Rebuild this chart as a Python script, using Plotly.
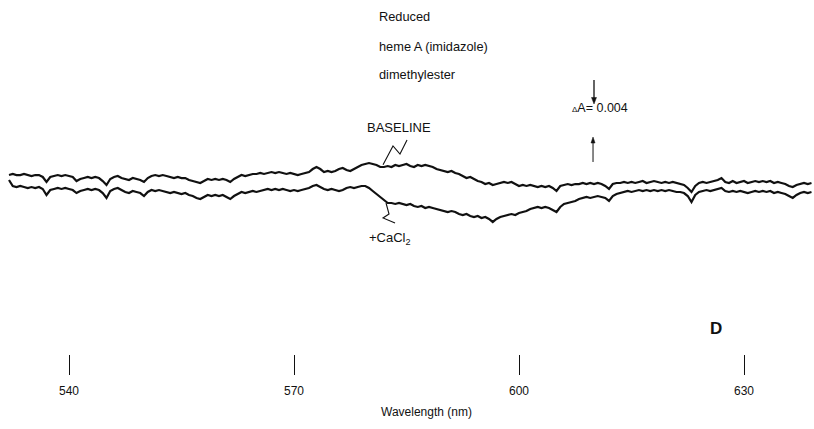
import numpy as np
import plotly.graph_objects as go

# Wavelength grid (nm), 0.5 nm steps
wavelength = np.round(np.arange(532.0, 639.01, 0.5), 1)

# Absorbance traces, in milli-absorbance (relative)
baseline_mA = [
    1.33, 1.47, 1.33, 1.33, 1.47, 1.33, 1.20, 1.33, 1.33, 1.07,
    0.40, 1.07, 1.20, 1.33, 1.20, 1.33, 1.20, 1.07, 0.53, 0.80,
    0.93, 1.07, 0.93, 1.07, 0.93, 0.53, 0.00, 0.80, 1.07, 1.20,
    0.93, 0.80, 0.67, 0.93, 0.80, 0.67, 0.40, 0.93, 1.20, 1.33,
    1.20, 1.33, 1.20, 1.07, 0.93, 1.07, 0.93, 0.93, 0.67, 0.53,
    0.40, 0.27, 0.53, 0.80, 0.67, 0.80, 0.67, 0.80, 0.67, 0.40,
    0.80, 1.07, 1.33, 1.20, 1.33, 1.47, 1.47, 1.60, 1.47, 1.60,
    1.73, 1.60, 1.73, 1.60, 1.47, 1.60, 1.47, 1.33, 1.47, 1.60,
    1.73, 2.13, 2.40, 2.13, 1.73, 1.87, 1.73, 1.87, 2.13, 2.27,
    2.00, 1.87, 2.13, 2.40, 2.67, 2.80, 2.93, 2.80, 2.67, 2.40,
    2.40, 2.53, 2.40, 2.67, 2.53, 2.67, 2.80, 2.53, 2.40, 2.67,
    2.53, 2.67, 2.53, 2.40, 2.13, 2.00, 1.87, 1.73, 1.87, 1.60,
    1.47, 1.20, 0.93, 1.07, 0.80, 0.53, 0.40, 0.13, 0.27, 0.00,
    0.13, 0.27, 0.40, 0.27, 0.40, 0.13, -0.13, 0.00, -0.13, 0.00,
    -0.13, -0.27, -0.13, -0.27, -0.13, -0.40, -0.80, -0.13, 0.00, 0.13,
    0.00, 0.13, 0.13, 0.27, 0.13, 0.27, 0.13, 0.27, 0.13, -0.13,
    -0.53, 0.13, 0.27, 0.27, 0.40, 0.27, 0.40, 0.27, 0.40, 0.53,
    0.27, 0.40, 0.53, 0.40, 0.27, 0.40, 0.27, 0.40, 0.27, 0.13,
    0.00, -0.40, -0.93, -0.13, 0.27, 0.40, 0.27, 0.40, 0.53, 0.67,
    0.93, 0.40, 0.27, 0.53, 0.27, 0.40, 0.53, 0.27, 0.40, 0.53,
    0.40, 0.53, 0.40, 0.53, 0.27, 0.40, 0.27, 0.13, -0.13, -0.27,
    0.00, 0.13, 0.27, 0.13, 0.27,
]

cacl2_mA = [
    0.67, -0.13, -0.27, -0.13, -0.27, -0.40, -0.27, -0.40, -0.27, -0.53,
    -1.33, -0.67, -0.53, -0.40, -0.53, -0.40, -0.53, -0.67, -1.07, -0.80,
    -0.67, -0.53, -0.67, -0.53, -0.67, -1.07, -1.73, -0.80, -0.53, -0.40,
    -0.67, -0.93, -1.07, -0.80, -0.93, -1.07, -1.47, -0.93, -0.67, -0.80,
    -0.67, -0.80, -0.93, -1.07, -0.93, -1.07, -1.20, -1.07, -1.33, -1.47,
    -1.73, -1.87, -1.60, -1.33, -1.47, -1.33, -1.47, -1.33, -1.60, -1.87,
    -1.47, -1.20, -0.93, -1.07, -0.93, -0.80, -0.93, -0.80, -0.67, -0.53,
    -0.67, -0.53, -0.67, -0.53, -0.67, -0.80, -0.67, -0.80, -0.67, -0.53,
    -0.40, -0.13, 0.00, -0.27, -0.53, -0.67, -0.53, -0.67, -0.80, -0.67,
    -0.40, -0.27, -0.40, -0.27, -0.13, -0.13, -0.40, -0.80, -1.20, -1.60,
    -2.00, -2.40, -2.40, -2.53, -2.40, -2.53, -2.67, -2.53, -2.80, -2.93,
    -2.80, -3.07, -2.93, -3.07, -3.20, -3.33, -3.47, -3.60, -3.47, -3.60,
    -3.87, -4.00, -3.87, -4.13, -4.27, -4.13, -4.40, -4.27, -4.53, -4.93,
    -4.53, -4.27, -4.13, -4.00, -3.87, -4.00, -3.73, -3.60, -3.47, -3.20,
    -3.07, -2.93, -3.07, -2.93, -3.07, -3.33, -3.60, -2.93, -2.53, -2.40,
    -2.27, -2.13, -1.87, -1.73, -1.60, -1.73, -1.60, -1.47, -1.60, -1.73,
    -2.13, -1.47, -1.20, -1.07, -0.93, -0.80, -0.93, -0.80, -0.67, -0.80,
    -0.67, -0.80, -0.67, -0.80, -0.67, -0.80, -0.67, -0.80, -0.93, -0.93,
    -1.07, -1.47, -2.27, -1.33, -0.93, -0.80, -0.67, -0.80, -0.67, -0.53,
    -0.40, -0.80, -0.93, -0.80, -0.93, -0.80, -0.93, -1.07, -0.93, -0.80,
    -0.93, -0.80, -0.93, -0.80, -1.07, -0.93, -1.07, -1.20, -1.47, -1.73,
    -1.33, -1.07, -0.93, -1.07, -0.93,
]

tick_values = [540, 570, 600, 630]
tick_labels = ["540", "570", "600", "630"]

title_lines = ["Reduced", "heme A (imidazole)", "dimethylester"]

FONT = "Liberation Sans, Arial, Helvetica, sans-serif"
INK = "#111111"

fig = go.Figure()
fig.add_trace(go.Scatter(x=wavelength, y=baseline_mA, mode="lines",
                         line=dict(color=INK, width=2.2), hoverinfo="skip",
                         showlegend=False))
fig.add_trace(go.Scatter(x=wavelength, y=cacl2_mA, mode="lines",
                         line=dict(color=INK, width=2.2), hoverinfo="skip",
                         showlegend=False))

annotations = []
for txt, yv in zip(title_lines, [22.53, 18.53, 14.67]):
    annotations.append(dict(x=581.07, y=yv, text=txt, showarrow=False,
                            xanchor="left", yanchor="middle",
                            font=dict(size=12.8, color=INK, family=FONT)))

annotations.append(dict(x=610.8, y=10.27,
                        text="<span style='font-size:8px'>Δ</span>A= 0.004",
                        showarrow=False, xanchor="center", yanchor="middle",
                        font=dict(size=12.5, color=INK, family=FONT)))
annotations.append(dict(x=584.0, y=7.73, text="BASELINE", showarrow=False,
                        xanchor="center", yanchor="middle",
                        font=dict(size=13, color=INK, family=FONT)))
annotations.append(dict(x=582.8, y=-7.07, text="+CaCl<sub>2</sub>", showarrow=False,
                        xanchor="center", yanchor="middle",
                        font=dict(size=13, color=INK, family=FONT)))
annotations.append(dict(x=626.27, y=-19.07, text="<b>D</b>", showarrow=False,
                        xanchor="center", yanchor="middle",
                        font=dict(size=17, color=INK, family=FONT)))
annotations.append(dict(x=587.73, y=-30.27, text="Wavelength (nm)", showarrow=False,
                        xanchor="center", yanchor="middle",
                        font=dict(size=12, color=INK, family=FONT)))

# zig-zag pointers
baseline_ptr_x = [585.07, 584.13, 583.2, 581.87]
baseline_ptr_y = [6.0, 4.13, 5.2, 2.7]
cacl2_ptr_x = [582.27, 582.67, 581.87, 583.47]
cacl2_ptr_y = [-2.4, -3.87, -4.4, -5.07]

# scale bar arrows (delta A = 0.004)
down_arrow_x, down_arrow_tail, down_arrow_tip = 610.0, 14.0, 10.8
up_arrow_x, up_arrow_tail, up_arrow_tip = 609.87, 3.07, 6.4


def path_of(xs, ys, close=False):
    p = "M " + " L ".join(f"{x},{y}" for x, y in zip(xs, ys))
    return p + (" Z" if close else "")


shapes = [
    dict(type="path", path=path_of(baseline_ptr_x, baseline_ptr_y), xref="x", yref="y",
         line=dict(color=INK, width=1.1)),
    dict(type="path", path=path_of(cacl2_ptr_x, cacl2_ptr_y), xref="x", yref="y",
         line=dict(color=INK, width=1.1)),
    # down arrow
    dict(type="line", x0=down_arrow_x, x1=down_arrow_x, y0=down_arrow_tail,
         y1=down_arrow_tip + 0.5, xref="x", yref="y", line=dict(color=INK, width=1.3)),
    dict(type="path", xref="x", yref="y",
         path=path_of([down_arrow_x - 0.33, down_arrow_x + 0.33, down_arrow_x],
                      [down_arrow_tip + 0.87, down_arrow_tip + 0.87, down_arrow_tip], True),
         fillcolor=INK, line=dict(color=INK, width=0.5)),
    # up arrow
    dict(type="line", x0=up_arrow_x, x1=up_arrow_x, y0=up_arrow_tail,
         y1=up_arrow_tip - 0.5, xref="x", yref="y", line=dict(color=INK, width=1.0)),
    dict(type="path", xref="x", yref="y",
         path=path_of([up_arrow_x - 0.27, up_arrow_x + 0.27, up_arrow_x],
                      [up_arrow_tip - 0.8, up_arrow_tip - 0.8, up_arrow_tip], True),
         fillcolor=INK, line=dict(color=INK, width=0.5)),
]

fig.update_layout(
    width=814, height=429,
    margin=dict(l=0, r=0, t=0, b=0),
    paper_bgcolor="white", plot_bgcolor="white",
    font=dict(family=FONT, size=12, color=INK),
    annotations=annotations, shapes=shapes,
    xaxis=dict(range=[530.8, 639.333], showgrid=False, zeroline=False,
               showline=False, anchor="free", position=1 - 354 / 429,
               tickmode="array", tickvals=tick_values, ticktext=tick_labels,
               ticks="outside", ticklen=20, tickwidth=1.3, tickcolor=INK,
               ticklabelstandoff=6,
               tickfont=dict(size=12, color=INK, family=FONT)),
    yaxis=dict(range=[-32.533, 24.667], visible=False, showgrid=False,
               zeroline=False),
)

fig.write_html("out.html")
